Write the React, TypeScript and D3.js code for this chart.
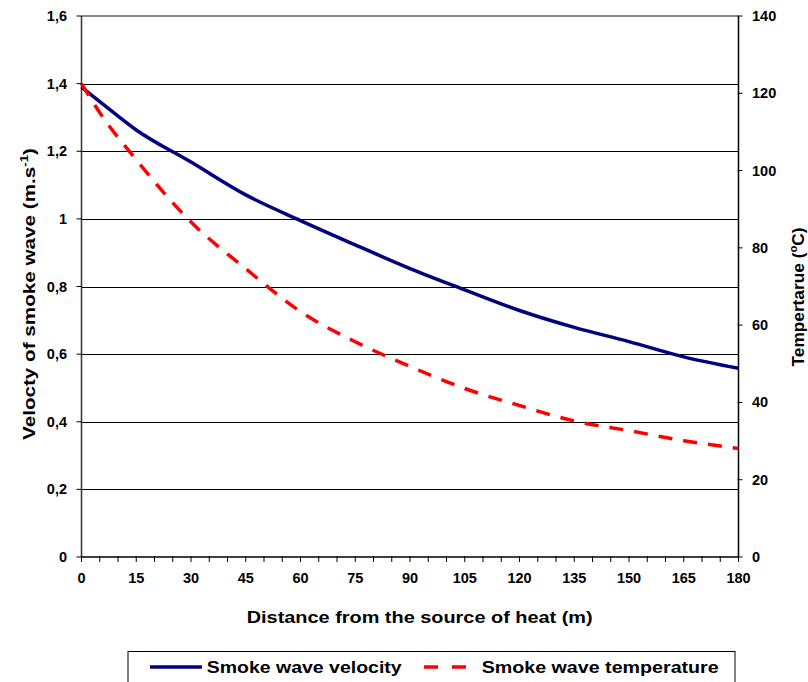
import React from "react";
import * as d3 from "d3";

const distance = [0, 5, 15, 30, 45, 60, 75, 90, 105, 120, 135, 150, 165, 180];
const velocity = [1.39, 1.347, 1.263, 1.168, 1.071, 0.995, 0.923, 0.853, 0.79, 0.729, 0.679, 0.637, 0.592, 0.558];
const temperature = [122.5, 115, 102.8, 86.7, 74.6, 63.5, 55.7, 49.3, 43.6, 39.2, 35.2, 32.7, 30.1, 28.1];

const xTickLabels = [0, 15, 30, 45, 60, 75, 90, 105, 120, 135, 150, 165, 180];
const xMinorTicks = d3.range(0, 181, 5);
const leftTicks = [0, 0.2, 0.4, 0.6, 0.8, 1, 1.2, 1.4, 1.6];
const rightTicks = [0, 20, 40, 60, 80, 100, 120, 140];

const FONT = "'Liberation Sans', Arial, sans-serif";

export default function App() {
  const L = 81.5, R = 738.5, T = 16, B = 557;
  const x = d3.scaleLinear().domain([0, 180]).range([L, R]);
  const yL = d3.scaleLinear().domain([0, 1.6]).range([B, T]);
  const yR = d3.scaleLinear().domain([0, 140]).range([B, T]);

  const vLine = d3.line<number>().x((_, i) => x(distance[i])).y((d) => yL(d)).curve(d3.curveMonotoneX);
  const tLine = d3.line<number>().x((_, i) => x(distance[i])).y((d) => yR(d)).curve(d3.curveMonotoneX);

  const fmt = (d: number) => (d === 0 ? "0" : String(+d.toFixed(1)).replace(".", ","));

  return (
    <svg width={808} height={682} style={{ position: "absolute", left: 0, top: 0, background: "#fff" }} fontFamily={FONT}>
      <rect x={0} y={0} width={808} height={682} fill="#fff" />
      {leftTicks.filter((d) => d > 0 && d < 1.6).map((d) => (
        <line key={"g" + d} x1={L} x2={R} y1={Math.round(yL(d)) + 0.5} y2={Math.round(yL(d)) + 0.5} stroke="#000" strokeWidth={1} />
      ))}
      <line x1={L} x2={R} y1={T} y2={T} stroke="#888" strokeWidth={2} />
      <line x1={L} x2={L} y1={T} y2={B} stroke="#333" strokeWidth={1.5} />
      <line x1={R} x2={R} y1={T} y2={B} stroke="#000" strokeWidth={1.5} />
      <line x1={L} x2={R} y1={B} y2={B} stroke="#000" strokeWidth={1.5} />
      {leftTicks.map((d) => (
        <g key={"l" + d}>
          <line x1={L - 5} x2={L} y1={yL(d)} y2={yL(d)} stroke="#000" strokeWidth={1} />
          <text x={67} y={yL(d) + 5} textAnchor="end" fontSize={14.5} fontWeight="bold" fill="#000">{fmt(d)}</text>
        </g>
      ))}
      {rightTicks.map((d) => (
        <g key={"r" + d}>
          <line x1={R - 1} x2={R + 4} y1={yR(d)} y2={yR(d)} stroke="#000" strokeWidth={1} />
          <text x={752} y={yR(d) + 5} textAnchor="start" fontSize={14.5} fontWeight="bold" fill="#000">{d}</text>
        </g>
      ))}
      {xMinorTicks.map((d) => (
        <line key={"m" + d} x1={x(d)} x2={x(d)} y1={B - 1} y2={B + 5} stroke="#000" strokeWidth={1} />
      ))}
      {xTickLabels.map((d) => (
        <text key={"xl" + d} x={x(d)} y={583} textAnchor="middle" fontSize={14.5} fontWeight="bold" fill="#000">{d}</text>
      ))}
      <path d={vLine(velocity) || ""} fill="none" stroke="#000080" strokeWidth={3.5} strokeLinejoin="round" />
      <path d={tLine(temperature) || ""} fill="none" stroke="#FF0000" strokeWidth={3.5} strokeDasharray="14,11" />
      <text x={246.7} y={623} fontSize={17} fontWeight="bold" fill="#000" textLength={346} lengthAdjust="spacingAndGlyphs">Distance from the source of heat (m)</text>
      <text transform="translate(35,294) rotate(-90)" textAnchor="middle" fontSize={17} fontWeight="bold" fill="#000" textLength={292} lengthAdjust="spacingAndGlyphs">
        Velocty of smoke wave (m.s<tspan fontSize={11} dy={-7}>-1</tspan><tspan dy={7}>)</tspan>
      </text>
      <text transform="translate(804,297) rotate(-90)" textAnchor="middle" fontSize={17} fontWeight="bold" fill="#000" textLength={139} lengthAdjust="spacingAndGlyphs">
        Tempertarue (<tspan fontSize={11} dy={-7}>o</tspan><tspan dy={7}>C)</tspan>
      </text>
      <rect x={128} y={651.5} width={607} height={45} fill="#fff" stroke="#000" strokeWidth={1} />
      <line x1={150} x2={202} y1={667} y2={667} stroke="#000080" strokeWidth={3.5} />
      <text x={206.7} y={673} fontSize={16.5} fontWeight="bold" fill="#000" textLength={195} lengthAdjust="spacingAndGlyphs">Smoke wave velocity</text>
      <line x1={424} x2={466} y1={667} y2={667} stroke="#FF0000" strokeWidth={3.5} strokeDasharray="14,14" />
      <text x={481.7} y={673} fontSize={16.5} fontWeight="bold" fill="#000" textLength={237} lengthAdjust="spacingAndGlyphs">Smoke wave temperature</text>
    </svg>
  );
}
